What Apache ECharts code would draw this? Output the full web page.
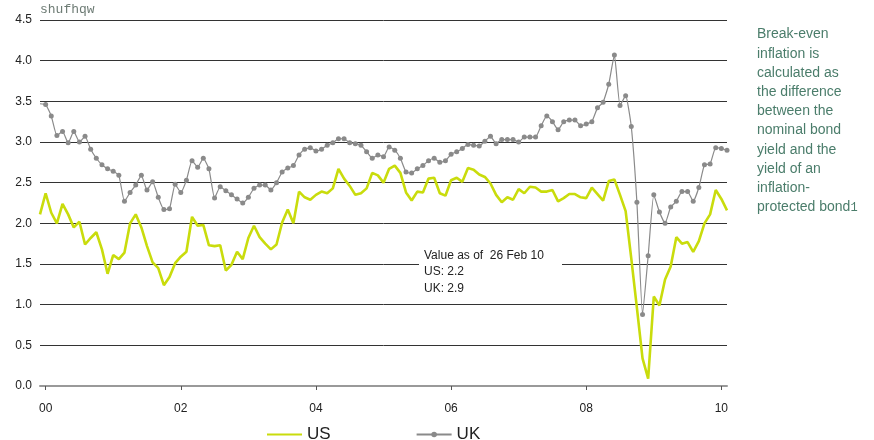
<!DOCTYPE html>
<html>
<head>
<meta charset="utf-8">
<script src="https://cdn.jsdelivr.net/npm/echarts@6/dist/echarts.min.js"></script>
<style>
html,body{margin:0;padding:0;background:#fff;}
#chart{width:874px;height:440px;}
</style>
</head>
<body>
<div id="chart"></div>
<script>
// Monthly series: first entry = Dec 1999 (edge of plot), then Jan 2000 .. Feb 2010
const usValues = [2.11,
 2.37,2.13,2.00,2.24,2.11,1.95,2.02,1.74,1.82,1.89,
 1.68,1.38,1.61,1.56,1.64,2.00,2.11,1.95,1.72,1.52,
 1.45,1.24,1.34,1.51,1.59,1.65,2.08,1.97,1.98,1.73,
 1.72,1.73,1.42,1.49,1.65,1.56,1.82,1.97,1.83,1.75,
 1.68,1.74,2.01,2.17,2.00,2.39,2.32,2.29,2.35,2.39,
 2.37,2.43,2.67,2.55,2.46,2.35,2.37,2.43,2.62,2.59,
 2.50,2.67,2.71,2.62,2.38,2.28,2.39,2.38,2.55,2.56,
 2.37,2.34,2.53,2.56,2.51,2.68,2.66,2.60,2.57,2.49,
 2.35,2.26,2.32,2.29,2.42,2.37,2.45,2.44,2.39,2.39,
 2.41,2.27,2.31,2.36,2.36,2.32,2.31,2.44,2.36,2.28,
 2.52,2.54,2.35,2.15,1.57,0.96,0.34,0.09,1.10,0.99,
 1.31,1.47,1.83,1.75,1.77,1.65,1.78,2.00,2.11,2.41,
 2.30,2.16];
const ukValues = [3.47,
 3.46,3.32,3.08,3.13,2.99,3.13,3.00,3.07,2.91,2.80,
 2.72,2.67,2.64,2.59,2.27,2.38,2.47,2.59,2.41,2.51,
 2.32,2.17,2.18,2.48,2.38,2.53,2.77,2.69,2.80,2.67,
 2.31,2.45,2.40,2.35,2.30,2.25,2.32,2.43,2.47,2.47,
 2.41,2.50,2.63,2.68,2.71,2.84,2.91,2.93,2.89,2.91,
 2.96,2.99,3.04,3.04,2.99,2.98,2.96,2.88,2.80,2.84,
 2.82,2.94,2.90,2.80,2.63,2.62,2.67,2.71,2.77,2.80,
 2.75,2.77,2.85,2.88,2.92,2.97,2.96,2.95,3.01,3.07,
 2.98,3.03,3.03,3.03,3.00,3.06,3.06,3.06,3.20,3.32,
 3.25,3.15,3.25,3.27,3.27,3.20,3.22,3.25,3.42,3.49,
 3.71,4.07,3.45,3.57,3.19,2.26,0.88,1.60,2.35,2.14,
 2.00,2.20,2.27,2.39,2.39,2.27,2.44,2.72,2.73,2.93,
 2.92,2.90];
const tickLabels = ['00','02','04','06','08','10'];
const seriesNames = ['US','UK'];
const unitLabel = 'shufhqw';
const noteLines = ['Value as of  26 Feb 10','US: 2.2','UK: 2.9'];
const sideText = ['Break-even','inflation is','calculated as','the difference','between the','nominal bond','yield and the','yield of an','inflation-','protected bond'];

// categories: Dec 1999 .. Feb 2010
const categories = [];
for (let k = 0; k < usValues.length; k++) {
  const t = 11 + k;
  const y = 1999 + Math.floor(t / 12);
  const m = t % 12 + 1;
  categories.push(y + '-' + String(m).padStart(2, '0'));
}
const isTick = (idx, val) => {
  const yy = val.slice(2, 4);
  return val.endsWith('-01') && tickLabels.indexOf(yy) >= 0;
};

const font = 'Liberation Sans, Arial, sans-serif';
const chart = echarts.init(document.getElementById('chart'), null, {renderer: 'canvas'});
const ukData = ukValues.map((v, i) => i === 0 ? {value: v, symbol: 'none'} : v);

chart.setOption({
  animation: false,
  backgroundColor: '#ffffff',
  grid: {left: 40, right: 147, top: 20, bottom: 54},
  legend: {
    data: [{name: seriesNames[0], itemStyle: {opacity: 0}}, {name: seriesNames[1]}],
    left: 261, top: 421,
    itemWidth: 35, itemHeight: 7, itemGap: 85,
    textStyle: {fontSize: 17, color: '#222', fontFamily: font}
  },
  xAxis: {
    type: 'category',
    data: categories,
    boundaryGap: false,
    axisLine: {lineStyle: {color: '#999', width: 2}},
    axisTick: {show: true, interval: isTick, length: 4, lineStyle: {color: '#555'}},
    axisLabel: {interval: isTick, formatter: v => v.slice(2, 4), color: '#222', fontSize: 12, fontFamily: font, margin: 17},
    splitLine: {show: false}
  },
  yAxis: {
    type: 'value',
    min: 0, max: 4.5, interval: 0.5,
    axisLine: {show: false},
    axisTick: {show: false},
    axisLabel: {formatter: v => v.toFixed(1), color: '#222', fontSize: 12, fontFamily: font, margin: 8},
    splitLine: {lineStyle: {color: '#333', width: 1}}
  },
  series: [
    {
      name: seriesNames[0], type: 'line', data: usValues,
      symbol: 'none',
      lineStyle: {color: '#c9dc0c', width: 2.6},
      itemStyle: {color: '#c9dc0c'},
      z: 3
    },
    {
      name: seriesNames[1], type: 'line', data: ukData,
      symbol: 'circle', symbolSize: 5, showSymbol: true, showAllSymbol: true,
      smooth: 0.15,
      lineStyle: {color: '#8a8a8a', width: 1.2},
      itemStyle: {color: '#8a8a8a'},
      z: 4
    }
  ],
  graphic: [
    {type: 'text', left: 40, top: 3, z: 100,
     style: {text: unitLabel, font: '13px "Liberation Mono", monospace', fill: '#6d7b74'}},
    {type: 'rect', shape: {x: 419, y: 248, width: 143, height: 46}, style: {fill: '#fff'}, z: 100},
    {type: 'text', left: 424, top: 247, z: 101,
     style: {text: noteLines.join('\n'), font: '12px ' + font, fill: '#222', lineHeight: 16.5}},
    {type: 'text', left: 757, top: 25, z: 101,
     style: {
       text: sideText.join('\n') + '{fn|1}',
       font: '14px ' + font, fill: '#4b7d6b', lineHeight: 19.2,
       rich: {fn: {fontFamily: 'Liberation Mono, monospace', fontSize: 12, fill: '#4b7d6b', lineHeight: 19.2}}
     }}
  ]
});
</script>
</body>
</html>
